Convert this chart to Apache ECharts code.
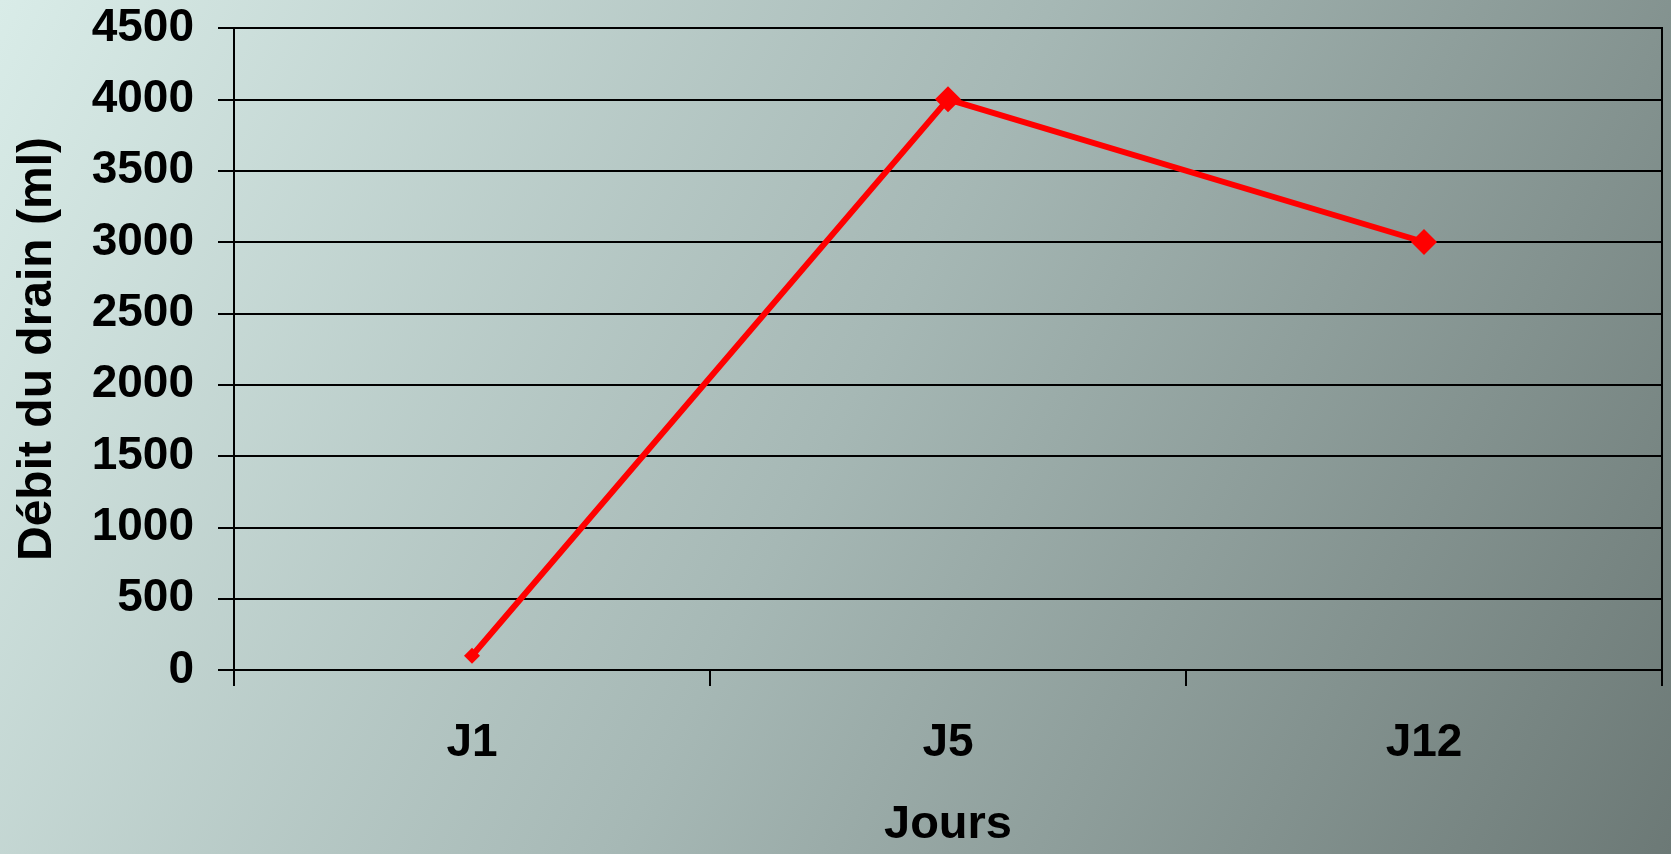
<!DOCTYPE html>
<html>
<head>
<meta charset="utf-8">
<script src="https://cdn.jsdelivr.net/npm/echarts@6/dist/echarts.min.js"></script>
<style>
  html, body { margin: 0; padding: 0; }
  #chart { width: 1671px; height: 854px; }
</style>
</head>
<body>
<div id="chart"></div>
<script>
const categories = ['J1', 'J5', 'J12'];
const drainValues = [100, 4000, 3000];
const markerSizes = [16, 26, 26];
const yAxisTitle = 'Débit du drain (ml)';
const xAxisTitle = 'Jours';

const FONT = '"Liberation Sans", Arial, sans-serif';
const chart = echarts.init(document.getElementById('chart'));

chart.setOption({
  backgroundColor: {
    type: 'linear', x: 0, y: 0, x2: 1, y2: 1,
    colorStops: [
      { offset: 0, color: '#d9ece8' },
      { offset: 0.5, color: '#a6b8b5' },
      { offset: 1, color: '#6c7976' }
    ]
  },
  animation: false,
  grid: {
    left: 234, right: 9, top: 28, bottom: 182,
    show: true, borderColor: '#000', borderWidth: 2, backgroundColor: 'transparent'
  },
  xAxis: {
    type: 'category',
    data: categories,
    boundaryGap: true,
    name: xAxisTitle,
    nameLocation: 'middle',
    nameGap: 132,
    nameTextStyle: { fontFamily: FONT, fontWeight: 'bold', fontSize: 47, color: '#000' },
    axisLine: { show: true, lineStyle: { color: '#000', width: 2 } },
    axisTick: { show: true, length: 16, inside: false, lineStyle: { color: '#000', width: 2 } },
    axisLabel: { fontFamily: FONT, fontWeight: 'bold', fontSize: 46, color: '#000', margin: 50 },
    splitLine: { show: false }
  },
  yAxis: {
    type: 'value',
    min: 0, max: 4500, interval: 500,
    name: yAxisTitle,
    nameLocation: 'middle',
    nameGap: 172,
    nameRotate: 90,
    nameTextStyle: { fontFamily: FONT, fontWeight: 'bold', fontSize: 48, color: '#000' },
    axisLine: { show: true, lineStyle: { color: '#000', width: 2 } },
    axisTick: { show: true, length: 16, inside: false, lineStyle: { color: '#000', width: 2 } },
    axisLabel: {
      fontFamily: FONT, fontWeight: 'bold', fontSize: 46, color: '#000', margin: 40,
      formatter: (v) => String(v)
    },
    splitLine: { show: true, lineStyle: { color: '#000', width: 2 } }
  },
  series: [{
    type: 'line',
    data: drainValues.map((v, i) => ({ value: v, symbolSize: markerSizes[i] })),
    symbol: 'diamond',
    lineStyle: { color: '#ff0000', width: 6 },
    itemStyle: { color: '#ff0000', borderWidth: 0 },
    z: 5
  }]
});
</script>
</body>
</html>
